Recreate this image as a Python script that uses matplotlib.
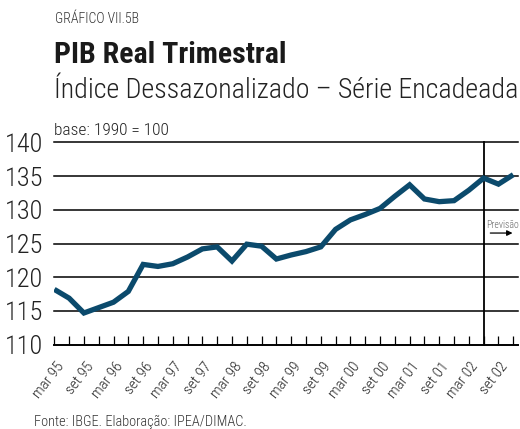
import matplotlib
matplotlib.use("Agg")
import matplotlib.pyplot as plt
import matplotlib.transforms as mtransforms
from matplotlib import font_manager as fm

# ---------------- data ----------------
quarters = ["mar 95", "jun 95", "set 95", "dez 95", "mar 96", "jun 96", "set 96", "dez 96",
            "mar 97", "jun 97", "set 97", "dez 97", "mar 98", "jun 98", "set 98", "dez 98",
            "mar 99", "jun 99", "set 99", "dez 99", "mar 00", "jun 00", "set 00", "dez 00",
            "mar 01", "jun 01", "set 01", "dez 01", "mar 02", "jun 02", "set 02", "dez 02"]
pib_index = [118.2, 116.9, 114.7, 115.5, 116.3, 117.9, 121.9, 121.6,
             122.0, 123.0, 124.2, 124.5, 122.4, 124.9, 124.6, 122.7,
             123.3, 123.8, 124.5, 127.1, 128.5, 129.3, 130.2, 132.0,
             133.7, 131.6, 131.2, 131.35, 132.9, 134.7, 133.8, 135.2]
y_ticks = [110, 115, 120, 125, 130, 135, 140]
forecast_start = "jun 02"

# ---------------- fonts ----------------
names = {f.name for f in fm.fontManager.ttflist}
def pick(cands):
    for c in cands:
        if c in names:
            return c
    return "DejaVu Sans"
COND = pick(["Roboto Condensed", "Liberation Sans Narrow", "Open Sans Condensed", "Liberation Sans"])
plt.rcParams["font.family"] = [COND, "DejaVu Sans"]

W, H, DPI = 520, 429, 100
fig = plt.figure(figsize=(W / DPI, H / DPI), dpi=DPI)
fig.patch.set_facecolor("white")

def fx(px):
    return px / W
def fy(py):
    return 1 - py / H

# axes placement
x0, x1 = 54.3, 518.0
y_top, y_bot = 142.3, 344.7
ax = fig.add_axes([fx(x0), fy(y_bot), fx(x1) - fx(x0), fy(y_top) - fy(y_bot)])

xs = list(range(len(quarters)))
ax.plot(xs, pib_index, color="#0b4a6c", lw=3.8, solid_joinstyle="miter",
        solid_capstyle="butt", zorder=3)

ax.set_ylim(110, 140)
ax.set_xlim(0, 31.32)

for v in y_ticks[1:]:
    ax.axhline(v, color="black", lw=1.1, zorder=1, clip_on=False)

fidx = quarters.index(forecast_start)
ax.plot([fidx, fidx], [110, 140], color="black", lw=1.3, zorder=2, clip_on=False)

for s in ["top", "right", "left"]:
    ax.spines[s].set_visible(False)
ax.spines["bottom"].set_linewidth(1.4)

ax.set_yticks(y_ticks)
ax.set_yticklabels([str(v) for v in y_ticks], fontsize=19, fontweight="light", color="#222222")
ax.tick_params(axis="y", length=0, pad=8)

ax.set_xticks(xs)
ax.set_xticklabels([q if i % 2 == 0 else "" for i, q in enumerate(quarters)],
                   rotation=52, ha="right", va="center", rotation_mode="anchor",
                   fontsize=11, fontweight="light", color="#222222")
ax.tick_params(axis="x", direction="in", length=6.5, width=0.9, pad=14)
offset = mtransforms.ScaledTranslation(5 / 72, 0, fig.dpi_scale_trans)
for lab in ax.get_xticklabels():
    lab.set_transform(lab.get_transform() + offset)

# Previsão annotation
ax.text(fidx + 1.25, 127.3, "Previsão", fontsize=7, color="#666666",
        ha="center", va="baseline", fontweight="light")
ax.annotate("", xy=(fidx + 1.95, 126.55), xytext=(fidx + 0.45, 126.55),
            arrowprops=dict(arrowstyle="-|>", color="black", lw=0.9,
                            mutation_scale=8, shrinkA=0, shrinkB=0))

# titles
fig.text(fx(55), fy(23), "GRÁFICO VII.5B", fontsize=10, color="#333333",
         ha="left", va="baseline", fontweight="light")
fig.text(fx(54), fy(63), "PIB Real Trimestral", fontsize=21.5, color="#1a1a1a",
         ha="left", va="baseline", fontweight="bold")
fig.text(fx(54), fy(98), "Índice Dessazonalizado – Série Encadeada", fontsize=20.2,
         color="#222222", ha="left", va="baseline", fontweight="light")
fig.text(fx(54), fy(135), "base: 1990 = 100", fontsize=12.5, color="#222222",
         ha="left", va="baseline", fontweight="light")
fig.text(fx(34), fy(426), "Fonte: IBGE. Elaboração: IPEA/DIMAC.", fontsize=10.4,
         color="#333333", ha="left", va="baseline", fontweight="light")

fig.savefig("out.png", dpi=DPI, facecolor="white")
